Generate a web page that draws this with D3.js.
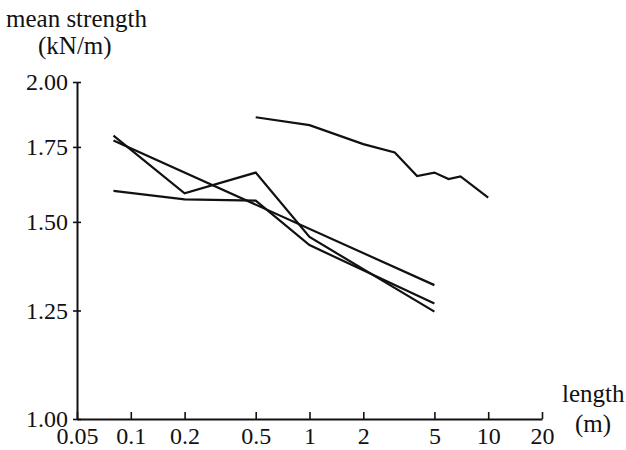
<!DOCTYPE html>
<html>
<head>
<meta charset="utf-8">
<script src="https://cdn.jsdelivr.net/npm/d3@7"></script>
<style>
  body { margin: 0; background: #fff; }
  text { font-family: "Liberation Serif", "DejaVu Serif", serif; fill: #111; }
</style>
</head>
<body>
<div id="chart"></div>
<script>
// tick labels
const xTicks = [0.05, 0.1, 0.2, 0.5, 1, 2, 5, 10, 20];
const xTickLabels = ['0.05', '0.1', '0.2', '0.5', '1', '2', '5', '10', '20'];
const yTicks = [1.00, 1.25, 1.50, 1.75, 2.00];

// series (length in m, mean strength in kN/m)
const upperLen = [0.5, 1, 2, 3, 4, 5, 6, 7, 10];
const upperVal = [1.86, 1.83, 1.76, 1.73, 1.648, 1.66, 1.638, 1.647, 1.577];

const zigLen = [0.08, 0.2, 0.5, 1, 5];
const zigVal = [1.791, 1.591, 1.66, 1.454, 1.247];

const flatLen = [0.08, 0.2, 0.5, 1, 5];
const flatVal = [1.599, 1.571, 1.567, 1.43, 1.268];

const fitLen = [0.08, 5];
const fitVal = [1.773, 1.317];

const W = 626, H = 450;
const margin = {left: 77, right: 84, top: 82, bottom: 31};

const svg = d3.select('#chart').append('svg')
  .attr('width', W)
  .attr('height', H);

const x = d3.scaleLog()
  .domain([0.05, 20])
  .range([margin.left, W - margin.right]);
const y = d3.scaleLog()
  .domain([1, 2])
  .range([H - margin.bottom, margin.top]);

// x axis, ticks pointing up
const xAxis = d3.axisBottom(x)
  .tickValues(xTicks)
  .tickFormat((d, i) => xTickLabels[i])
  .tickSizeInner(-7)
  .tickSizeOuter(0)
  .tickPadding(8);

const gx = svg.append('g')
  .attr('transform', 'translate(0,' + (H - margin.bottom) + ')')
  .call(xAxis);
gx.select('.domain').attr('stroke', '#111').attr('stroke-width', 2);
gx.selectAll('.tick line').attr('stroke', '#111').attr('stroke-width', 1.6);
gx.selectAll('.tick text').attr('font-size', 24).attr('font-family', '"Liberation Serif", serif');

// y axis, ticks across the line
const yAxis = d3.axisLeft(y)
  .tickValues(yTicks)
  .tickFormat(d3.format('.2f'))
  .tickSizeInner(4)
  .tickSizeOuter(0)
  .tickPadding(5);

const gy = svg.append('g')
  .attr('transform', 'translate(' + margin.left + ',0)')
  .call(yAxis);
gy.select('.domain').attr('stroke', '#111').attr('stroke-width', 2);
gy.selectAll('.tick line').attr('x1', 4).attr('stroke', '#111').attr('stroke-width', 1.6);
gy.selectAll('.tick text').attr('font-size', 24).attr('font-family', '"Liberation Serif", serif');

// axis titles
svg.append('text')
  .attr('x', 6).attr('y', 27)
  .attr('font-size', 25)
  .text('mean strength');
svg.append('text')
  .attr('x', 38).attr('y', 54)
  .attr('font-size', 25)
  .text('(kN/m)');
svg.append('text')
  .attr('x', 562).attr('y', 402)
  .attr('font-size', 25)
  .text('length');
svg.append('text')
  .attr('x', 575).attr('y', 432)
  .attr('font-size', 25)
  .text('(m)');

// lines
const line = d3.line()
  .x(d => x(d[0]))
  .y(d => y(d[1]));

const series = [
  [upperLen, upperVal],
  [zigLen, zigVal],
  [flatLen, flatVal],
  [fitLen, fitVal]
];

svg.append('g').selectAll('path')
  .data(series.map(s => s[0].map((l, i) => [l, s[1][i]])))
  .join('path')
  .attr('d', line)
  .attr('fill', 'none')
  .attr('stroke', '#111')
  .attr('stroke-width', 2.2)
  .attr('stroke-linejoin', 'miter');
</script>
</body>
</html>
